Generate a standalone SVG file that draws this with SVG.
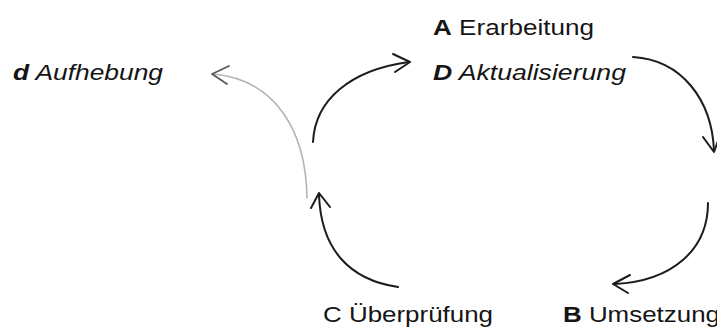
<svg xmlns="http://www.w3.org/2000/svg" width="717" height="329" viewBox="0 0 717 329">
<style>
text{font-family:"Liberation Sans",Arial,sans-serif;font-size:22px;fill:#151515}
.b{font-weight:bold}
.i{font-style:italic}
.ln{fill:none;stroke:#1c1c1c;stroke-width:2;stroke-linecap:round;stroke-linejoin:round}
.gr{fill:none;stroke:#b4b4b4;stroke-width:1.6;stroke-linecap:round}
.grh{fill:none;stroke:#5a5a5a;stroke-width:1.8;stroke-linecap:round;stroke-linejoin:round}
</style>
<rect width="717" height="329" fill="#ffffff"/>
<g id="connectors">
<path class="gr" d="M307,198 C306,130 275,80 214,74"/>
<polyline class="grh" points="229,66 212,74 227,84"/>
<path class="ln" d="M313,142 C315,100 350,70 409,62"/>
<polyline class="ln" points="393,54 410,62 395,72"/>
<path class="ln" d="M633,57 C682,60 712,100 714,151"/>
<polyline class="ln" points="703,137 714,152 719,138"/>
<path class="ln" d="M708,203 C708,250 672,281 615,284"/>
<polyline class="ln" points="630,275 613,284 628,293"/>
<path class="ln" d="M398,287 C350,280 321,250 319,195"/>
<polyline class="ln" points="311,208 319,193 330,207"/>
</g>
<g id="node-A"><text x="433" y="35" textLength="161" lengthAdjust="spacingAndGlyphs"><tspan class="b">A</tspan> Erarbeitung</text></g>
<g id="node-D"><text class="i" x="433" y="80" textLength="193" lengthAdjust="spacingAndGlyphs"><tspan class="b">D</tspan> Aktualisierung</text></g>
<g id="node-d"><text class="i" x="13" y="80" textLength="150" lengthAdjust="spacingAndGlyphs"><tspan class="b">d</tspan> Aufhebung</text></g>
<g id="node-C"><text x="323" y="322" textLength="170" lengthAdjust="spacingAndGlyphs">C Überprüfung</text></g>
<g id="node-B"><text x="563" y="322" textLength="157" lengthAdjust="spacingAndGlyphs"><tspan class="b">B</tspan> Umsetzung</text></g>
</svg>
